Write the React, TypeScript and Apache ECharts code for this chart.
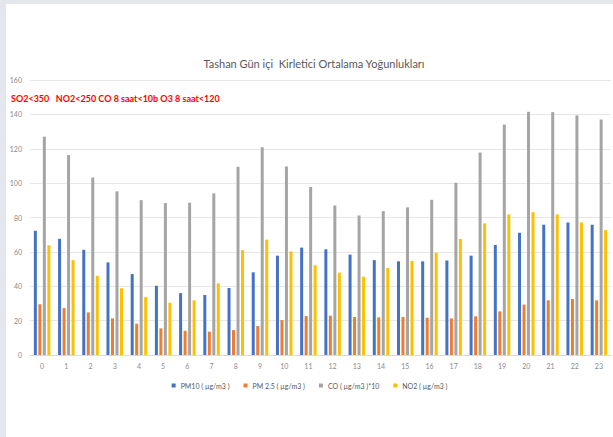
import React, { useEffect, useRef } from "react";
import * as echarts from "echarts";

const hours = [
  "0", "1", "2", "3", "4", "5", "6", "7", "8", "9", "10", "11",
  "12", "13", "14", "15", "16", "17", "18", "19", "20", "21", "22", "23",
];

const pm10 = [
  72.3, 67.6, 61.2, 53.9, 47.1, 40.3, 36.0, 34.9, 39.0, 48.1, 57.8, 62.5,
  61.5, 58.4, 55.2, 54.5, 54.5, 55.0, 57.8, 64.0, 71.1, 75.8, 77.1, 75.8,
];
const pm25 = [
  29.5, 27.3, 24.8, 21.3, 18.2, 15.5, 14.1, 13.6, 14.5, 16.9, 20.3, 22.7,
  22.9, 22.1, 21.9, 22.1, 21.7, 21.3, 22.5, 25.4, 29.3, 31.8, 32.6, 31.8,
];
const coX10 = [
  127.0, 116.3, 103.3, 95.2, 90.1, 88.4, 88.6, 94.0, 109.5, 120.9, 109.7, 97.8,
  87.0, 81.2, 83.7, 85.9, 90.3, 100.2, 117.8, 134.1, 141.5, 141.3, 139.4, 137.0,
];
const no2 = [
  63.8, 55.2, 46.1, 38.8, 33.7, 30.4, 31.8, 41.7, 61.0, 67.1, 60.3, 52.2,
  47.9, 45.5, 50.6, 54.7, 59.5, 67.5, 76.6, 81.8, 83.1, 81.8, 77.1, 72.7,
];

const seriesNames = [
  "PM10 ( µg/m3 )",
  "PM 2.5 ( µg/m3 )",
  "CO ( µg/m3 )*10",
  "NO2 ( µg/m3 )",
];
const seriesColors = ["#4472c4", "#ed7d31", "#a5a5a5", "#ffc000"];

const titleText = "Tashan Gün içi  Kirletici Ortalama Yoğunlukları";
const limitsText = "SO2<350   NO2<250 CO 8 saat<10b O3 8 saat<120";

const FONT = "Lato, 'Open Sans', sans-serif";

export default function App() {
  const ref = useRef<HTMLDivElement>(null);

  useEffect(() => {
    if (!ref.current) return;
    const chart = echarts.init(ref.current, undefined, { renderer: "svg" });
    const values = [pm10, pm25, coX10, no2];

    chart.setOption({
      animation: false,
      backgroundColor: "#ffffff",
      textStyle: { fontFamily: FONT },
      grid: { left: 24, right: 2, top: 76, bottom: 82, containLabel: false },
      legend: {
        data: seriesNames,
        left: "center",
        top: 373,
        itemWidth: 4,
        itemHeight: 4,
        itemGap: 14,
        icon: "rect",
        textStyle: { fontSize: 7, color: "#595959", fontFamily: FONT },
      },
      xAxis: {
        type: "category",
        data: hours,
        axisTick: { show: false },
        axisLine: { lineStyle: { color: "#d9d9d9" } },
        axisLabel: { fontSize: 7, color: "#8a8a8a", margin: 7, fontFamily: FONT },
      },
      yAxis: {
        type: "value",
        min: 0,
        max: 160,
        interval: 20,
        axisLine: { show: false },
        axisTick: { show: false },
        axisLabel: { fontSize: 7, color: "#8a8a8a", margin: 8, fontFamily: FONT },
        splitLine: { lineStyle: { color: "#e6e6e6" } },
      },
      series: seriesNames.map((name, i) => ({
        name,
        type: "bar",
        data: values[i],
        barWidth: 3,
        barGap: "50%",
        itemStyle: { color: seriesColors[i] },
      })),
      graphic: [
        {
          type: "text",
          x: 308,
          y: 59,
          style: {
            text: titleText,
            fill: "#595959",
            font: `11px ${FONT}`,
            textAlign: "center",
            textVerticalAlign: "middle",
          },
        },
        {
          type: "text",
          x: 5,
          y: 94,
          style: {
            text: limitsText,
            fill: "#ff0000",
            font: `bold 9px ${FONT}`,
            textAlign: "left",
            textVerticalAlign: "middle",
          },
        },
      ],
    });

    return () => chart.dispose();
  }, []);

  return (
    <div
      style={{
        position: "fixed",
        left: 0,
        top: 0,
        width: 613,
        height: 437,
        background: "#e4e8ee",
        overflow: "hidden",
      }}
    >
      <div
        ref={ref}
        style={{ position: "absolute", left: 6, top: 4, width: 607, height: 433 }}
      />
    </div>
  );
}
